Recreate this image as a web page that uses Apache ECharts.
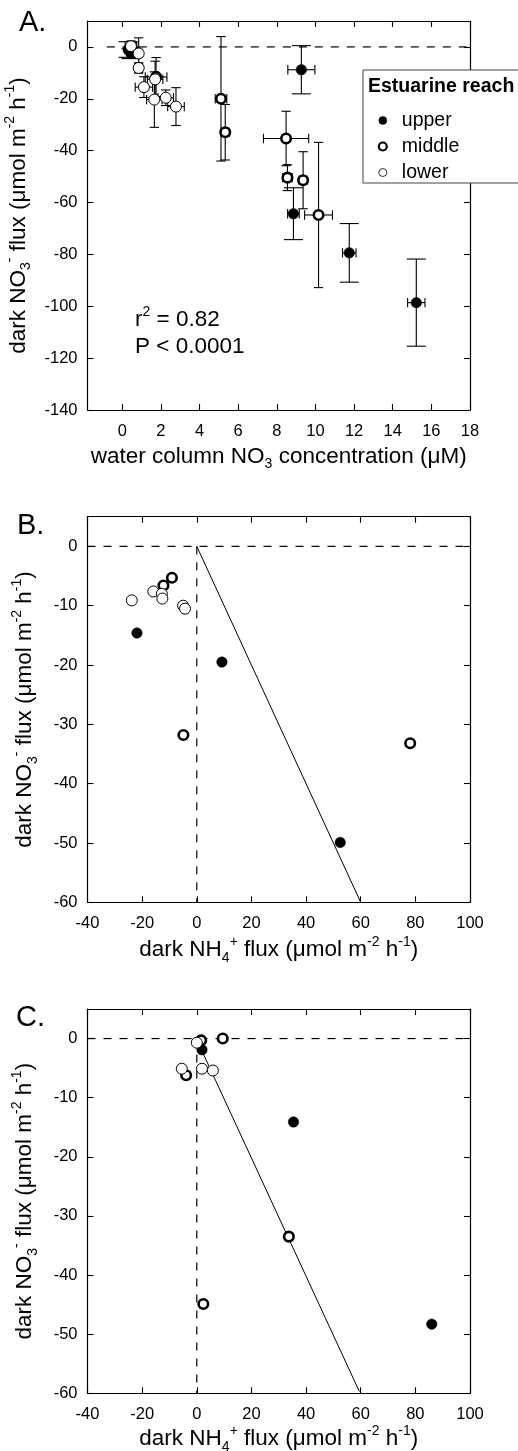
<!DOCTYPE html>
<html><head><meta charset="utf-8">
<script src="https://cdn.jsdelivr.net/npm/echarts@6/dist/echarts.min.js"></script>
<style>html,body{margin:0;padding:0;background:#fff}#c{width:518px;height:1451px}</style>
</head><body><div id="c"></div><script>
// ---------- Panel A: flux vs water column NO3 ----------
const aUpperX    = [0.30, 0.45, 9.27, 8.86, 11.75, 15.22];
const aUpperY    = [-1.0, -2.5, -8.8, -64.3, -79.4, -98.6];
const aUpperXErr = [0.15, 0.15, 0.70, 0.30, 0.35, 0.45];
const aUpperYErr = [3.0, 2.0, 9.3, 10.0, 11.3, 16.8];

const aMiddleX    = [0.50, 1.75, 5.11, 5.33, 8.48, 8.55, 9.36, 10.16];
const aMiddleY    = [-0.5, -11.6, -20.0, -32.9, -35.3, -50.4, -51.4, -64.8];
const aMiddleXErr = [0.20, 0.56, 0.30, 0.20, 1.17, 0.25, 0.20, 0.72];
const aMiddleYErr = [2.0, 7.5, 24.0, 10.7, 10.5, 5.0, 11.0, 28.0];

const aLowerX    = [0.45, 0.85, 0.85, 1.12, 1.66, 1.70, 2.25, 2.78];
const aLowerY    = [0.3, -2.5, -8.1, -15.5, -20.3, -12.5, -19.6, -23.0];
const aLowerXErr = [0.30, 0.20, 0.20, 0.45, 0.40, 0.40, 0.40, 0.43];
const aLowerYErr = [2.0, 6.0, 2.0, 4.0, 10.7, 7.0, 3.0, 7.3];

const aXTicks = [0, 2, 4, 6, 8, 10, 12, 14, 16, 18];
const aYTicks = [-140, -120, -100, -80, -60, -40, -20, 0];
const aZeroLineX = [-0.8, 18];

// ---------- Panel B ----------
const bUpperX  = [-21.9, 9.2, 52.5];
const bUpperY  = [-14.6, -19.5, -49.9];
const bMiddleX = [-9.1, -12.2, -4.9, 78.1];
const bMiddleY = [-5.3, -6.6, -31.8, -33.2];
const bLowerX  = [-15.9, -12.8, -12.6, -23.8, -5.0, -4.3];
const bLowerY  = [-7.6, -8.0, -8.8, -9.1, -10.0, -10.5];
const bFitX = [0, 60];
const bFitY = [0, -60];

// ---------- Panel C ----------
const cUpperX  = [1.9, 35.4, 86.0];
const cUpperY  = [-1.9, -14.1, -48.3];
const cMiddleX = [1.6, 9.5, -3.9, 33.7, 2.4];
const cMiddleY = [-0.3, 0.0, -6.2, -33.5, -44.9];
const cLowerX  = [0.0, -5.5, 1.9, 5.9];
const cLowerY  = [-0.7, -5.1, -5.1, -5.4];
const cFitX = [1.2, 59.5];
const cFitY = [-1.4, -59.7];

const bcXTicks = [-40, -20, 0, 20, 40, 60, 80, 100];
const bcYTicks = [-60, -50, -40, -30, -20, -10, 0];
const bcZeroLineX = [-40, 100];
const bcVertLineY = [0, -60];

const reaches = ['upper', 'middle', 'lower'];

// ---------- styling ----------
const FONT = '"Liberation Sans", Arial, Helvetica, sans-serif';
const BLACK = '#000';
const RICH = {
  b:   {fontSize: 22.5, fontFamily: FONT, color: BLACK, lineHeight: 30, verticalAlign: 'middle'},
  sub: {fontSize: 14, fontFamily: FONT, color: BLACK, lineHeight: 14, verticalAlign: 'bottom'},
  sup: {fontSize: 14, fontFamily: FONT, color: BLACK, lineHeight: 14, verticalAlign: 'top'}
};
const yName = '{b|dark NO}{sub|3}{sup|-}{b| flux (μmol m}{sup|-2}{b| h}{sup|-1}{b|)}';
const aXName = '{b|water column NO}{sub|3}{b| concentration (μM)}';
const bcXName = '{b|dark NH}{sub|4}{sup|+}{b| flux (μmol m}{sup|-2}{b| h}{sup|-1}{b|)}';

const GRIDS = [
  {left: 87.5, top: 21, width: 382.5, height: 389},
  {left: 87.5, top: 516.7, width: 382.5, height: 385.6},
  {left: 87.5, top: 1009, width: 382.5, height: 384.3}
];

function zip(xs, ys) { return xs.map((x, i) => [x, ys[i]]); }
function zip4(xs, ys, xe, ye) { return xs.map((x, i) => [x, ys[i], xe[i], ye[i]]); }

const axisLine = {show: true, onZero: false, lineStyle: {color: BLACK, width: 1.2}};
function makeX(gi, min, max, ticks, name, gap) {
  const tick = {show: true, inside: true, length: 6, customValues: ticks, lineStyle: {color: BLACK, width: 1.1}};
  return [
    {gridIndex: gi, type: 'value', min, max, position: 'bottom', axisLine, axisTick: tick,
     axisLabel: {customValues: ticks, margin: 13, fontSize: 16.5, fontFamily: FONT, color: BLACK},
     splitLine: {show: false}, name, nameLocation: 'middle', nameGap: gap,
     nameTextStyle: {rich: RICH, fontFamily: FONT, fontSize: 22.5, color: BLACK}},
    {gridIndex: gi, type: 'value', min, max, position: 'top', axisLine, axisTick: tick,
     axisLabel: {show: false}, splitLine: {show: false}}
  ];
}
function makeY(gi, min, max, ticks) {
  const tick = {show: true, inside: true, length: 6, customValues: ticks, lineStyle: {color: BLACK, width: 1.1}};
  return [
    {gridIndex: gi, type: 'value', min, max, position: 'left', axisLine, axisTick: tick,
     axisLabel: {customValues: ticks, margin: 10, fontSize: 16.5, fontFamily: FONT, color: BLACK},
     splitLine: {show: false}, name: yName, nameLocation: 'middle', nameGap: 47.5, nameRotate: 90,
     nameTextStyle: {rich: RICH, fontFamily: FONT, fontSize: 22.5, color: BLACK}},
    {gridIndex: gi, type: 'value', min, max, position: 'right', axisLine, axisTick: tick,
     axisLabel: {show: false}, splitLine: {show: false}}
  ];
}

const xAxis = [
  ...makeX(0, -1.8, 18, aXTicks, aXName, 31.3),
  ...makeX(1, -40, 100, bcXTicks, bcXName, 32.4),
  ...makeX(2, -40, 100, bcXTicks, bcXName, 28.4)
];
const yAxis = [
  ...makeY(0, -140, 10, aYTicks),
  ...makeY(1, -60, 5, bcYTicks),
  ...makeY(2, -60, 5, bcYTicks)
];

const markerStyle = {
  upper:  {symbolSize: 10.5, itemStyle: {color: BLACK, borderColor: BLACK, borderWidth: 0.5, opacity: 1}},
  middle: {symbolSize: 9.5, itemStyle: {color: '#fff', borderColor: BLACK, borderWidth: 2.6, opacity: 1}},
  lower:  {symbolSize: 11, itemStyle: {color: '#fff', borderColor: BLACK, borderWidth: 1, opacity: 1}}
};
const legendIconStyle = {
  upper:  {color: BLACK, borderColor: BLACK, borderWidth: 0.5},
  middle: {color: '#fff', borderColor: BLACK, borderWidth: 2.2},
  lower:  {color: '#fff', borderColor: BLACK, borderWidth: 0.8}
};
const capHalf = {upper: 9.5, middle: 4.7, lower: 4.7};

function scatter(name, gi, data) {
  return {name, type: 'scatter', xAxisIndex: gi * 2, yAxisIndex: gi * 2, data, symbol: 'circle',
    symbolSize: markerStyle[name].symbolSize, itemStyle: markerStyle[name].itemStyle,
    z: 5, silent: true, emphasis: {disabled: true}};
}
function errBars(reach, data) {
  const ch = capHalf[reach];
  return {name: 'err-' + reach, type: 'custom', xAxisIndex: 0, yAxisIndex: 0, data, z: 3, silent: true,
    encode: {x: 0, y: 1},
    renderItem: function (params, api) {
      const x = api.value(0), y = api.value(1), xe = api.value(2), ye = api.value(3);
      const t = api.coord([x, y + ye]), b = api.coord([x, y - ye]);
      const l = api.coord([x - xe, y]), r = api.coord([x + xe, y]);
      const st = {stroke: BLACK, lineWidth: 1.1};
      return {type: 'group', children: [
        {type: 'line', shape: {x1: t[0], y1: t[1], x2: b[0], y2: b[1]}, style: st},
        {type: 'line', shape: {x1: t[0] - ch, y1: t[1], x2: t[0] + ch, y2: t[1]}, style: st},
        {type: 'line', shape: {x1: b[0] - ch, y1: b[1], x2: b[0] + ch, y2: b[1]}, style: st},
        {type: 'line', shape: {x1: l[0], y1: l[1], x2: r[0], y2: r[1]}, style: st},
        {type: 'line', shape: {x1: l[0], y1: l[1] - 4.7, x2: l[0], y2: l[1] + 4.7}, style: st},
        {type: 'line', shape: {x1: r[0], y1: r[1] - 4.7, x2: r[0], y2: r[1] + 4.7}, style: st}
      ]};
    }};
}
function lineSeries(gi, data, dashed) {
  return {type: 'line', xAxisIndex: gi * 2, yAxisIndex: gi * 2, data, symbol: 'none', silent: true, z: 2,
    lineStyle: {color: BLACK, width: dashed ? 1.2 : 1, type: dashed ? [8, 8] : 'solid', opacity: 1},
    emphasis: {disabled: true}, animation: false};
}

const series = [
  scatter('upper', 0, zip(aUpperX, aUpperY)),
  scatter('middle', 0, zip(aMiddleX, aMiddleY)),
  scatter('lower', 0, zip(aLowerX, aLowerY)),
  errBars('upper', zip4(aUpperX, aUpperY, aUpperXErr, aUpperYErr)),
  errBars('middle', zip4(aMiddleX, aMiddleY, aMiddleXErr, aMiddleYErr)),
  errBars('lower', zip4(aLowerX, aLowerY, aLowerXErr, aLowerYErr)),
  lineSeries(0, zip(aZeroLineX, [0, 0]), true),

  scatter('upper', 1, zip(bUpperX, bUpperY)),
  scatter('middle', 1, zip(bMiddleX, bMiddleY)),
  scatter('lower', 1, zip(bLowerX, bLowerY)),
  lineSeries(1, zip(bcZeroLineX, [0, 0]), true),
  lineSeries(1, zip([0, 0], bcVertLineY), true),
  lineSeries(1, zip(bFitX, bFitY), false),

  scatter('upper', 2, zip(cUpperX, cUpperY)),
  scatter('middle', 2, zip(cMiddleX, cMiddleY)),
  scatter('lower', 2, zip(cLowerX, cLowerY)),
  lineSeries(2, zip(bcZeroLineX, [0, 0]), true),
  lineSeries(2, zip([0, 0], bcVertLineY), true),
  lineSeries(2, zip(cFitX, cFitY), false)
];

const chart = echarts.init(document.getElementById('c'), null, {renderer: 'canvas', width: 518, height: 1451});
chart.setOption({
  backgroundColor: '#fff',
  animation: false,
  grid: GRIDS.map(g => Object.assign({containLabel: false, outerBoundsMode: 'none'}, g)),
  xAxis, yAxis, series,
  legend: {
    data: reaches.map(n => ({name: n, itemStyle: legendIconStyle[n]})),
    orient: 'vertical', left: 372.7, top: 105.5, itemWidth: 8, itemHeight: 8, itemGap: 6,
    selectedMode: false, z: 10,
    textStyle: {fontSize: 19.5, fontFamily: FONT, color: BLACK, lineHeight: 19, padding: [0, 0, 0, 10]}
  },
  graphic: [
    {type: 'rect', z: 8, shape: {x: 363, y: 70, width: 200, height: 113},
     style: {fill: '#fff', stroke: '#444', lineWidth: 1}},
    {type: 'text', z: 9, x: 368, y: 87, style: {text: 'Estuarine reach', fontSize: 19.5, fontWeight: 'bold',
      fontFamily: FONT, fill: BLACK, align: 'left', verticalAlign: 'middle'}},
    {type: 'text', z: 9, x: 135, y: 320, style: {text: '{b|r}{sup|2}{b| = 0.82}', rich: RICH,
      fontFamily: FONT, fontSize: 22.5, fill: BLACK, align: 'left', verticalAlign: 'middle'}},
    {type: 'text', z: 9, x: 135, y: 346.7, style: {text: 'P < 0.0001', fontFamily: FONT, fontSize: 22.5,
      fill: BLACK, align: 'left', verticalAlign: 'middle'}},
    {type: 'text', z: 9, x: 19, y: 23, style: {text: 'A.', fontFamily: FONT, fontSize: 29, fill: BLACK, align: 'left', verticalAlign: 'middle'}},
    {type: 'text', z: 9, x: 17, y: 525.5, style: {text: 'B.', fontFamily: FONT, fontSize: 29, fill: BLACK, align: 'left', verticalAlign: 'middle'}},
    {type: 'text', z: 9, x: 16, y: 1018, style: {text: 'C.', fontFamily: FONT, fontSize: 29, fill: BLACK, align: 'left', verticalAlign: 'middle'}}
  ]
});
</script></body></html>
